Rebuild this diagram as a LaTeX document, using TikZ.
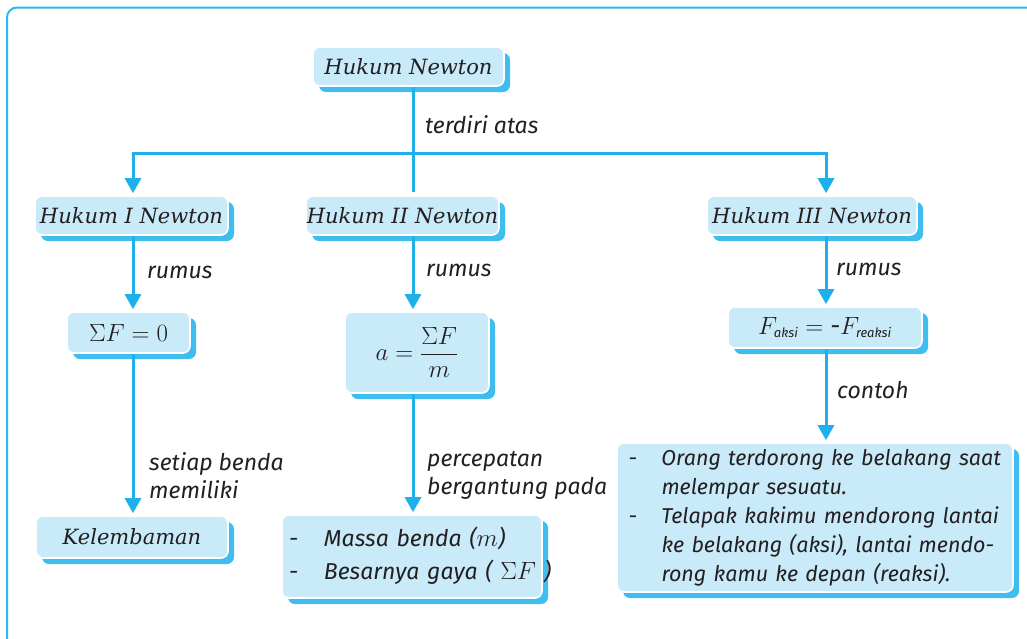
\documentclass[tikz,border=0pt]{standalone}
\usepackage{amsmath}
\usepackage{fontspec}
\usetikzlibrary{arrows.meta,shadows}
\setmainfont{Liberation Serif}
\newfontfamily\headfont{DejaVu Serif}
\newfontfamily\labfont{Fira Sans}
\definecolor{boxfill}{HTML}{C8EAF9}
\definecolor{shadowc}{HTML}{3EBDEE}
\definecolor{linec}{HTML}{1DB0EB}
\definecolor{framec}{HTML}{2CB9ED}
\definecolor{textc}{HTML}{231F20}
\tikzset{
  box/.style={rounded corners=7pt, fill=boxfill, draw=white, line width=1.6pt,
    drop shadow={shadow xshift=6pt, shadow yshift=-6pt, fill=shadowc, opacity=1},
    inner sep=0pt, text=textc},
  head/.style={box, minimum height=39pt, font=\headfont\itshape\fontsize{21}{25}\selectfont},
  lab/.style={font=\labfont\itshape\fontsize{23}{28}\selectfont, text=textc, inner sep=0pt, align=left},
  listbox/.style={box, align=left, font=\labfont\itshape\fontsize{23}{29}\selectfont},
  ln/.style={linec, line width=3pt},
  arr/.style={linec, line width=3pt, shorten >=2pt, -{Triangle[width=16pt,length=15pt]}},
}
\begin{document}
\begin{tikzpicture}[x=1pt,y=-1pt]
\useasboundingbox (0,0) rectangle (1027,638);
\clip (0,0) rectangle (1027,638);
\draw[framec, line width=2pt, rounded corners=10pt] (7,700) -- (7,7.5) -- (1100,7.5);

% boxes
\node[head, minimum width=191pt] (hn) at (408.5,66.5) {Hukum Newton};
\node[head, minimum width=193pt] (h1) at (131.5,215.5) {Hukum I Newton};
\node[head, minimum width=193pt] (h2) at (402.5,215.5) {Hukum II Newton};
\node[head, minimum width=210pt] (h3) at (812,215.5) {Hukum III Newton};
\node[box, minimum width=123pt, minimum height=41pt, font=\fontsize{26}{30}\selectfont] (sf) at (128.5,332.5) {$\Sigma F = 0$};
\node[box, minimum width=144pt, minimum height=81pt, font=\fontsize{25}{30}\selectfont] (am) at (417,352.5) {$a = \dfrac{\Sigma F}{m}$};
\node[box, minimum width=194pt, minimum height=41pt, font=\labfont\itshape\fontsize{25}{30}\selectfont] (fa) at (825,327.5)
  {$F_{\text{\fontsize{13}{13}\selectfont aksi}} = \text{-}F_{\text{\fontsize{13}{13}\selectfont reaksi}}$};
\node[head, minimum width=192pt, minimum height=42pt] (kel) at (132,537) {Kelembaman};
\node[listbox, text width=246pt, inner xsep=7pt, minimum height=83pt, font=\labfont\itshape\fontsize{23}{33}\selectfont] (mas) at (412,556.5)
  {\begin{tabular}{@{}p{35pt}@{}l@{}}
   -& Massa benda ($m$)\\
   -& Besarnya gaya ( $\Sigma F$ )
   \end{tabular}};
\node[listbox, text width=373pt, inner xsep=11.5pt, minimum height=149pt, font=\labfont\itshape\fontsize{21.5}{29}\selectfont] (ex) at (815,517.5)
  {\begin{tabular}{@{}p{33pt}@{}l@{}}
   -& \makebox[340pt][s]{Orang terdorong ke belakang saat}\\
    & melempar sesuatu.\\
   -& \makebox[338pt][s]{Telapak kakimu mendorong lantai}\\
    & \makebox[336pt][s]{ke belakang (aksi), lantai mendo-}\\
    & rong kamu ke depan (reaksi).
   \end{tabular}};

% connectors
\coordinate (j1) at (133,153);
\coordinate (j2) at (413,153);
\coordinate (j3) at (826,153);
\draw[ln, shorten >=3pt] (hn.south -| j2) -- (j2 |- h2.north);
\draw[arr] (j2) -| (j1 |- h1.north);
\draw[arr] (j2) -| (j3 |- h3.north);
\draw[arr] (h1.south -| j1) -- (sf.north -| j1);
\draw[arr] (sf.south -| j1) -- (kel.north -| j1);
\draw[arr] (h2.south -| j2) -- (am.north -| j2);
\draw[arr] (am.south -| j2) -- (mas.north -| j2);
\draw[arr] (h3.south -| j3) -- (fa.north -| j3);
\draw[arr] (fa.south -| j3) -- (ex.north -| j3);

% labels
\node[lab, anchor=base west] (l0) at (425,133) {terdiri atas};
\node[lab, anchor=base west] (l1) at (147,278) {rumus};
\node[lab, anchor=base west] (l2) at (426,276) {rumus};
\node[lab, anchor=base west] (l3) at (836,275) {rumus};
\node[lab, anchor=base west] (l4) at (837,398) {contoh};
\node[lab, anchor=north west] (l5) at (149,452) {setiap benda\\memiliki};
\node[lab, anchor=north west] (l6) at (427,451) {percepatan\\bergantung pada};
\end{tikzpicture}
\end{document}
